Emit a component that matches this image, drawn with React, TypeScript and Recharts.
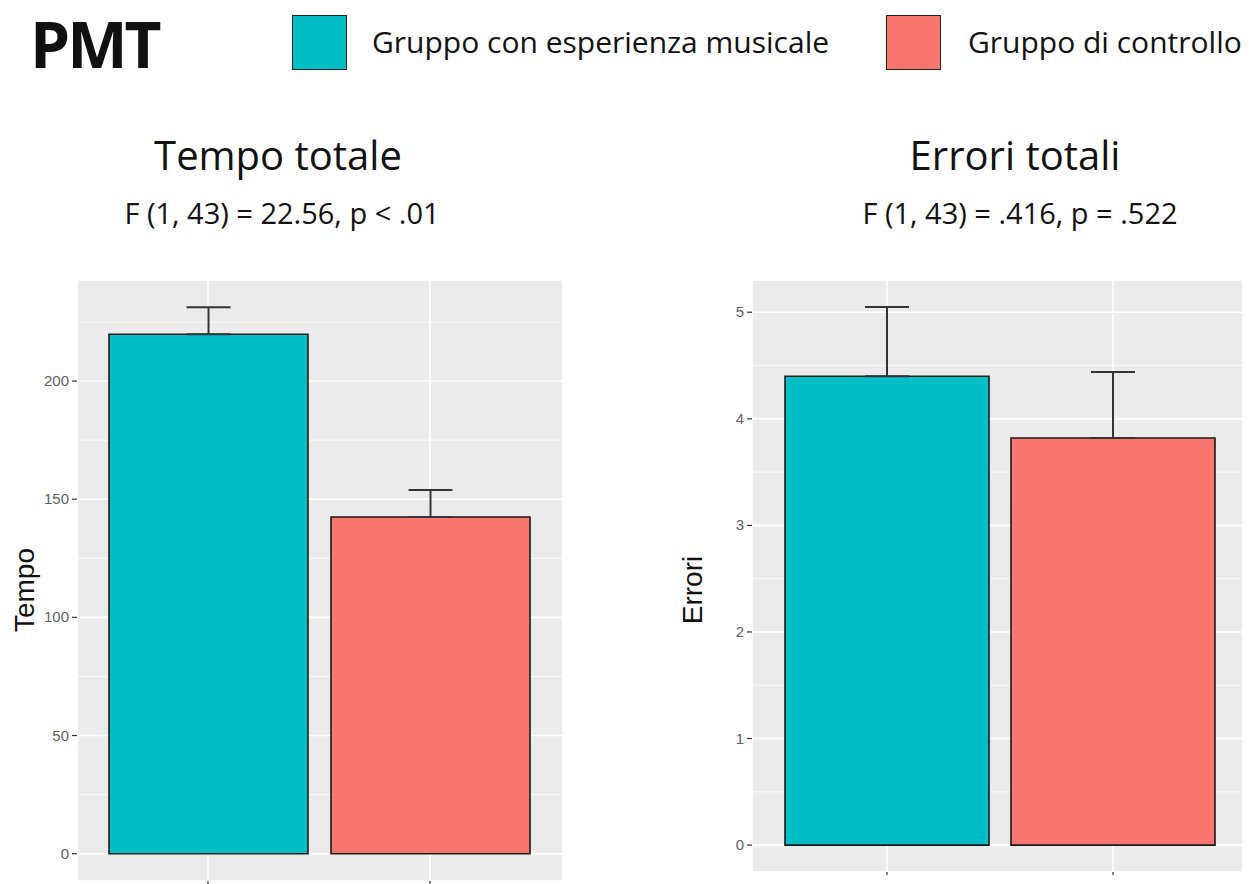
import React from 'react';
import { BarChart, Bar, Cell, XAxis, YAxis, CartesianGrid, ErrorBar, ReferenceLine } from 'recharts';

// Groups and colours (ggplot default hue palette)
const groups = ['Gruppo con esperienza musicale', 'Gruppo di controllo'];
const groupColors = ['#00BFC4', '#F8766D'];

// Tempo totale: means and standard errors
const tempoMeans = [219.8, 142.5];
const tempoSE = [11.4, 11.4];
const tempoTicks = [0, 50, 100, 150, 200];
const tempoMinor = [25, 75, 125, 175, 225];

// Errori totali: means and standard errors
const erroriMeans = [4.4, 3.82];
const erroriSE = [0.65, 0.62];
const erroriTicks = [0, 1, 2, 3, 4, 5];
const erroriMinor = [0.5, 1.5, 2.5, 3.5, 4.5];

const titleFont = '"Open Sans", "Noto Sans", sans-serif';
const axisFont = '"Liberation Sans", Arial, sans-serif';

function buildRows(means: number[], se: number[]) {
  return groups.map((g, i) => ({ group: g, value: means[i], err: [0, se[i]] }));
}

// ggplot-style 5% expansion of the data range
function expandedDomain(means: number[], se: number[]): [number, number] {
  const top = Math.max(...means.map((m, i) => m + se[i]));
  const pad = top * 0.05;
  return [-pad, top + pad];
}

interface PanelProps {
  means: number[];
  se: number[];
  ticks: number[];
  minor: number[];
  width: number;
  height: number;
  yAxisWidth: number;
  marginRight: number;
  padLeft: number;
  padRight: number;
  barSize: number;
}

// y tick label drawn as plain svg text, right-aligned against the tick mark
function YTick(props: any) {
  const { x, y, payload } = props;
  return (
    <text x={x} y={y} dy={5} textAnchor="end" fill="#5E5E5E" fontSize={15} fontFamily={axisFont}>
      {payload.value}
    </text>
  );
}

function Panel({ means, se, ticks, minor, width, height, yAxisWidth, marginRight, padLeft, padRight, barSize }: PanelProps) {
  const data = buildRows(means, se);
  return (
    <BarChart
      width={width}
      height={height}
      data={data}
      margin={{ top: 10, right: marginRight, bottom: 0, left: 0 }}
      barSize={barSize}
    >
      <CartesianGrid fill="#EBEBEB" fillOpacity={1} stroke="#FFFFFF" strokeWidth={1.6} />
      {minor.map((v) => (
        <ReferenceLine key={v} y={v} stroke="#FFFFFF" strokeWidth={0.8} zIndex={-90} />
      ))}
      <XAxis
        dataKey="group"
        height={10}
        padding={{ left: padLeft, right: padRight }}
        axisLine={false}
        tickLine={{ stroke: '#333333', strokeWidth: 1.2 }}
        tickSize={3}
        tickFormatter={() => ''}
      />
      <YAxis
        type="number"
        width={yAxisWidth}
        domain={expandedDomain(means, se)}
        ticks={ticks}
        allowDataOverflow
        axisLine={false}
        tickLine={{ stroke: '#333333', strokeWidth: 1.2 }}
        tickSize={5}
        tickMargin={3}
        tick={YTick}
      />
      <Bar dataKey="value" stroke="#1A1A1A" strokeWidth={1.6} isAnimationActive={false}>
        {data.map((d, i) => (
          <Cell key={d.group} fill={groupColors[i]} />
        ))}
        <ErrorBar dataKey="err" direction="y" width={22} stroke="#333333" strokeWidth={2} isAnimationActive={false} />
      </Bar>
    </BarChart>
  );
}

const abs = (left: number, top: number): React.CSSProperties => ({ position: 'absolute', left, top });

export default function App() {
  return (
    <div
      style={{
        position: 'absolute',
        left: 0,
        top: 0,
        width: 1249,
        height: 884,
        background: '#FFFFFF',
        overflow: 'hidden',
        fontFamily: titleFont,
        color: '#111111',
      }}
    >
      {/* header: test name and legend */}
      <div style={{ ...abs(30, 6), fontSize: 64, fontWeight: 700, letterSpacing: -3, lineHeight: '76px' }}>PMT</div>
      <div style={{ ...abs(292, 15), width: 53, height: 53, background: groupColors[0], border: '1.5px solid #222' }} />
      <div style={{ ...abs(372, 21), fontSize: 30, lineHeight: '42px', whiteSpace: 'nowrap' }}>{groups[0]}</div>
      <div style={{ ...abs(886, 15), width: 53, height: 53, background: groupColors[1], border: '1.5px solid #222' }} />
      <div style={{ ...abs(968, 21), fontSize: 30, lineHeight: '42px', whiteSpace: 'nowrap' }}>{groups[1]}</div>

      {/* panel titles */}
      <div style={{ ...abs(78, 128), width: 400, textAlign: 'center', fontSize: 40, lineHeight: '54px' }}>Tempo totale</div>
      <div style={{ ...abs(82, 193), width: 400, textAlign: 'center', fontSize: 29, lineHeight: '40px' }}>
        F (1, 43) = 22.56, p &lt; .01
      </div>
      <div style={{ ...abs(815, 128), width: 400, textAlign: 'center', fontSize: 40, lineHeight: '54px' }}>Errori totali</div>
      <div style={{ ...abs(820, 193), width: 400, textAlign: 'center', fontSize: 29, lineHeight: '40px' }}>
        F (1, 43) = .416, p = .522
      </div>

      {/* y axis titles */}
      <div
        style={{
          ...abs(25, 590),
          transform: 'translate(-50%, -50%) rotate(-90deg)',
          fontFamily: axisFont,
          fontSize: 28,
          whiteSpace: 'nowrap',
        }}
      >
        Tempo
      </div>
      <div
        style={{
          ...abs(693, 590),
          transform: 'translate(-50%, -50%) rotate(-90deg)',
          fontFamily: axisFont,
          fontSize: 28,
          whiteSpace: 'nowrap',
        }}
      >
        Errori
      </div>

      <div style={abs(0, 270)}>
        <Panel
          means={tempoMeans}
          se={tempoSE}
          ticks={tempoTicks}
          minor={tempoMinor}
          width={580}
          height={621}
          yAxisWidth={77}
          marginRight={17}
          padLeft={20}
          padRight={22}
          barSize={199}
        />
      </div>
      <div style={abs(670, 270)}>
        <Panel
          means={erroriMeans}
          se={erroriSE}
          ticks={erroriTicks}
          minor={erroriMinor}
          width={579}
          height={612}
          yAxisWidth={82}
          marginRight={6}
          padLeft={22}
          padRight={17}
          barSize={204}
        />
      </div>
    </div>
  );
}
